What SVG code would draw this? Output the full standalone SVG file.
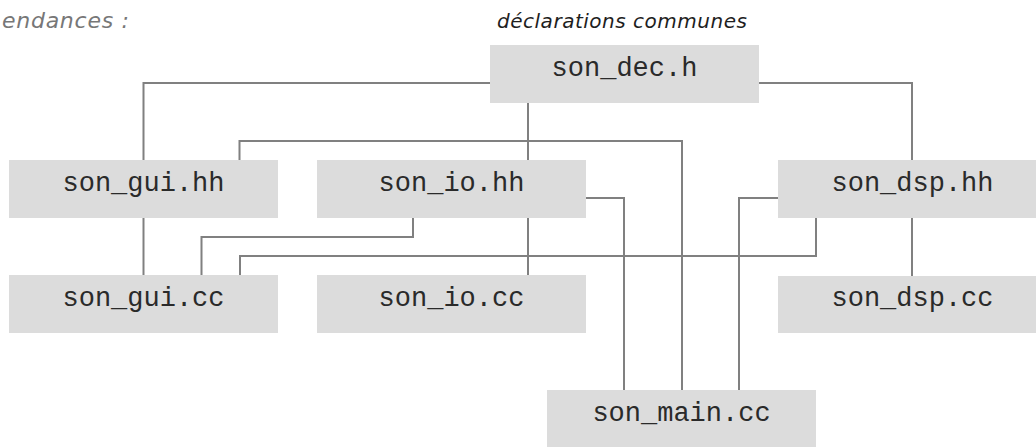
<svg xmlns="http://www.w3.org/2000/svg" width="1036" height="447" viewBox="0 0 1036 447">
  <style>
    .box { fill: #dcdcdc; }
    .name { font-family: "Liberation Mono", "Courier New", monospace; font-size: 27px; fill: #2a2a2a; text-anchor: middle; }
    .wire { fill: none; stroke: #808080; stroke-width: 2; }
    .caption { font-family: "DejaVu Sans", Verdana, sans-serif; font-style: italic; }
  </style>
  <rect width="1036" height="447" fill="#ffffff"/>

  <text class="caption" x="2" y="28" font-size="22" fill="#777777" textLength="127">endances :</text>
  <text class="caption" x="497" y="28" font-size="20" fill="#1e1e1e" textLength="250">déclarations communes</text>

  <!-- dependency lines -->
  <g id="connectors">
    <polyline class="wire" points="143.5,160 143.5,83 490,83"/>
    <polyline class="wire" points="759,83 912,83 912,160"/>
    <line class="wire" x1="528" y1="103" x2="528" y2="160"/>
    <line class="wire" x1="528" y1="218" x2="528" y2="275"/>
    <polyline class="wire" points="239.5,160 239.5,141 682,141 682,390"/>
    <polyline class="wire" points="586,198 624,198 624,390"/>
    <polyline class="wire" points="778,198 739,198 739,390"/>
    <polyline class="wire" points="413,218 413,237 201.5,237 201.5,275"/>
    <polyline class="wire" points="816,218 816,256 240,256 240,275"/>
    <line class="wire" x1="143.5" y1="218" x2="143.5" y2="275"/>
    <line class="wire" x1="912" y1="218" x2="912" y2="276"/>
  </g>

  <g id="son_dec_h">
    <rect class="box" x="490" y="45" width="269" height="58"/>
    <text class="name" x="624.5" y="76">son_dec.h</text>
  </g>
  <g id="son_gui_hh">
    <rect class="box" x="9" y="160" width="269" height="58"/>
    <text class="name" x="143.5" y="191">son_gui.hh</text>
  </g>
  <g id="son_io_hh">
    <rect class="box" x="317" y="160" width="269" height="58"/>
    <text class="name" x="451.5" y="191">son_io.hh</text>
  </g>
  <g id="son_dsp_hh">
    <rect class="box" x="778" y="160" width="269" height="58"/>
    <text class="name" x="912.5" y="191">son_dsp.hh</text>
  </g>
  <g id="son_gui_cc">
    <rect class="box" x="9" y="275" width="269" height="58"/>
    <text class="name" x="143.5" y="306">son_gui.cc</text>
  </g>
  <g id="son_io_cc">
    <rect class="box" x="317" y="275" width="269" height="58"/>
    <text class="name" x="451.5" y="306">son_io.cc</text>
  </g>
  <g id="son_dsp_cc">
    <rect class="box" x="778" y="276" width="269" height="57"/>
    <text class="name" x="912.5" y="306">son_dsp.cc</text>
  </g>
  <g id="son_main_cc">
    <rect class="box" x="547" y="390" width="269" height="58"/>
    <text class="name" x="681.5" y="421">son_main.cc</text>
  </g>
</svg>
